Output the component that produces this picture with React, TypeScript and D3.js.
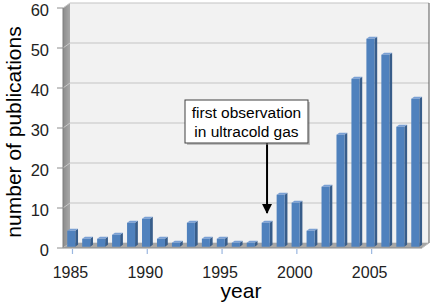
import React from 'react';
import * as d3 from 'd3';

const years = [1985, 1986, 1987, 1988, 1989, 1990, 1991, 1992, 1993, 1994, 1995, 1996,
  1997, 1998, 1999, 2000, 2001, 2002, 2003, 2004, 2005, 2006, 2007, 2008];
const counts = [4, 2, 2, 3, 6, 7, 2, 1, 6, 2, 2, 1, 1, 6, 13, 11, 4, 15, 28, 42, 52, 48, 30, 37];
const yTicks = [0, 10, 20, 30, 40, 50, 60];
const xTickYears = [1985, 1990, 1995, 2000, 2005];
const noteLines = ['first observation', 'in ultracold gas'];
const noteYear = 1998;

const W = 443;
const H = 306;
// depth of the 3d box (back plane offset from front plane)
const DX = 7;
const DY = -5;
const FONT = "Arial, 'Liberation Sans', sans-serif";

const App = () => {
  const x = d3.scaleBand<number>().domain(years).range([63, 422]);
  const y = d3.scaleLinear().domain([0, 60]).range([248, 8]);
  const step = x.step();
  const cx = (yr: number) => (x(yr) as number) + step / 2;

  const x0 = 63, x1 = 422;
  const yTop = y(60), yBot = y(0);

  // bar front/back at fraction of depth
  const f0 = 0.25, f1 = 0.65;
  const barW = 8;

  const noteX = cx(noteYear) + DX * 0.3;

  return (
    <svg width={W} height={H} style={{ position: 'absolute', left: 0, top: 0 }}
      fontFamily={FONT}>
      <rect width={W} height={H} fill="#fff" />
      <defs>
        <linearGradient id="lwall" x1="0" x2="1" y1="0" y2="0">
          <stop offset="0" stopColor="#8c8c8c" />
          <stop offset="1" stopColor="#a8a8a8" />
        </linearGradient>
        <marker id="arr" viewBox="0 0 10 10" refX="9" refY="5" markerWidth="5" markerHeight="5" orient="auto">
          <path d="M0,0 L10,5 L0,10 z" fill="#000" />
        </marker>
      </defs>

      {/* back wall */}
      <rect x={x0 + DX} y={yTop + DY} width={x1 - x0} height={yBot - yTop} fill="#f2f2f2" />
      {yTicks.map(t => (
        <line key={'g' + t} x1={x0 + DX} x2={x1 + DX} y1={y(t) + DY} y2={y(t) + DY}
          stroke="#c4c4c4" strokeWidth={1.2} />
      ))}
      <line x1={x1 + DX} x2={x1 + DX} y1={yTop + DY} y2={yBot + DY} stroke="#595959" strokeWidth={1} />

      {/* left wall */}
      <polygon points={`${x0},${yTop} ${x0 + DX},${yTop + DY} ${x0 + DX},${yBot + DY} ${x0},${yBot}`}
        fill="url(#lwall)" />
      {yTicks.map(t => (
        <line key={'lg' + t} x1={x0} x2={x0 + DX} y1={y(t)} y2={y(t) + DY} stroke="#c8c8c8" strokeWidth={1} />
      ))}
      <line x1={x0} x2={x0} y1={yTop} y2={yBot} stroke="#7f7f7f" strokeWidth={1} />

      {/* floor */}
      <polygon points={`${x0},${yBot} ${x1},${yBot} ${x1 + DX},${yBot + DY} ${x0 + DX},${yBot + DY}`}
        fill="#a6a6a6" />
      <line x1={x0} x2={x1} y1={yBot} y2={yBot} stroke="#8c8c8c" strokeWidth={1} />
      <line x1={x1} x2={x1 + DX} y1={yBot} y2={yBot + DY} stroke="#bfbfbf" strokeWidth={1} />

      {/* bars */}
      {years.map((yr, i) => {
        const v = counts[i];
        const l = cx(yr) - barW / 2 + DX * f0 - 1;
        const bx = DX * (f1 - f0), by = DY * (f1 - f0);
        const top = y(v) + DY * f0;
        const bot = yBot + DY * f0;
        return (
          <g key={yr}>
            <polygon points={`${l + barW},${top} ${l + barW + bx},${top + by} ${l + barW + bx},${bot + by} ${l + barW},${bot}`}
              fill="#385d8a" />
            <polygon points={`${l},${top} ${l + bx},${top + by} ${l + barW + bx},${top + by} ${l + barW},${top}`}
              fill="#7aa0d4" />
            <rect x={l} y={top} width={barW} height={bot - top} fill="#4f81bd" />
          </g>
        );
      })}

      {/* y axis ticks + labels */}
      {yTicks.map(t => (
        <g key={'yt' + t}>
          <line x1={57} x2={x0} y1={y(t)} y2={y(t)} stroke="#8c8c8c" />
          <text x={49} y={y(t) + 7.5} textAnchor="end" fontSize={16.5} fill="#222">{t}</text>
        </g>
      ))}

      {/* x axis ticks + labels */}
      {xTickYears.map(yr => (
        <g key={'xt' + yr}>
          <line x1={cx(yr) + 2} x2={cx(yr) + 2} y1={yBot + 1} y2={yBot + 6} stroke="#9bb7e0" strokeWidth={1.2} />
          <text x={cx(yr)} y={277.5} textAnchor="middle" fontSize={16} fill="#222">{yr}</text>
        </g>
      ))}

      {/* axis titles */}
      <text x={241} y={298} textAnchor="middle" fontSize={21} fill="#000">year</text>
      <text transform={`translate(21,132) rotate(-90)`} textAnchor="middle" fontSize={21} fill="#000">
        number of publications
      </text>

      {/* annotation */}
      <line x1={noteX} x2={noteX} y1={143} y2={213} stroke="#000" strokeWidth={2} markerEnd="url(#arr)" />
      <rect x={187} y={102} width={123} height={43} fill="#8c8c8c" opacity={0.5} />
      <rect x={185} y={100} width={123} height={43} fill="#fff" stroke="#404040" strokeWidth={1} />
      {noteLines.map((s, i) => (
        <text key={s} x={246.5} y={118 + i * 19} textAnchor="middle" fontSize={15.5} fill="#000">{s}</text>
      ))}
    </svg>
  );
};

export default App;
